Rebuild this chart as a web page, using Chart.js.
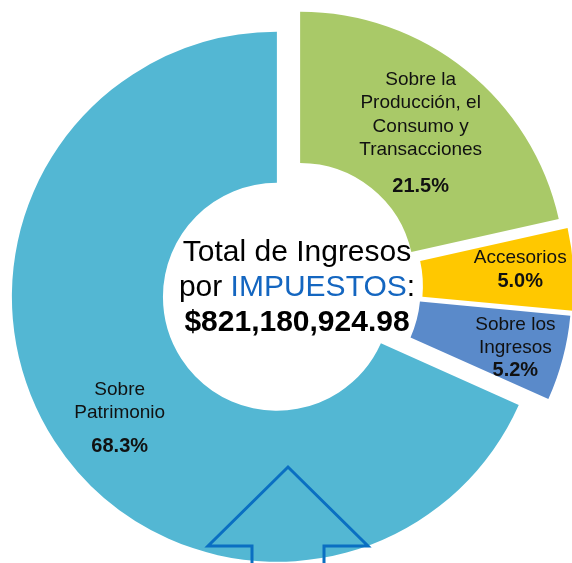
<!DOCTYPE html>
<html>
<head>
<meta charset="utf-8">
<script src="https://cdn.jsdelivr.net/npm/chart.js@4"></script>
<style>
html,body{margin:0;padding:0;background:#fff;overflow:hidden;width:572px;height:563px;}
#wrap{position:absolute;left:0;top:0;width:584px;height:574px;}
</style>
</head>
<body>
<div id="wrap"><canvas id="c" width="584" height="574"></canvas></div>
<script>
const categories = [
  ["Sobre la", "Producción, el", "Consumo y", "Transacciones"],
  ["Accesorios"],
  ["Sobre los", "Ingresos"],
  ["Sobre", "Patrimonio"]
];
const values = [21.5, 5.0, 5.2, 68.3];
const percentLabels = ["21.5%", "5.0%", "5.2%", "68.3%"];
const colors = ["#A9C968", "#FFC800", "#5A8ACA", "#53B7D3"];
const sliceOffsets = [13, 17, 15, 18];
const centerLines = ["Total de Ingresos", "por ", "IMPUESTOS", ":", "$821,180,924.98"];

const OUTER = 265;
const CUT = 0.43;

// label placement per slice (fraction of outer radius, angle shift deg, gap before %)
const labelLayout = [
  {r: 0.712, da: 1.0, gap: 37},
  {r: 0.80, da: -1.3, gap: 24},
  {r: 0.815, da: 0, gap: 23},
  {r: 0.745, da: -4.3, gap: 34}
];

// Chart.js v4 draws offset/4, grows radii by offset*fix and trims angles; compensate
const explodePlugin = {
  id: 'explodeFix',
  beforeDatasetsDraw(chart) {
    const meta = chart.getDatasetMeta(0);
    meta.data.forEach((arc, i) => {
      if (arc._fixed) return;
      const circ = arc.circumference;
      const fix = 1 - Math.sin(Math.min(Math.PI, circ || 0));
      const ro = sliceOffsets[i] * fix;
      arc.outerRadius = OUTER - ro;
      arc.innerRadius = OUTER * CUT - ro;
      const ao = ro / (2 * Math.PI * OUTER);
      arc.startAngle -= ao;
      arc.endAngle += ao;
      arc._fixed = true;
    });
  }
};

const labelPlugin = {
  id: 'sliceLabels',
  afterDatasetsDraw(chart) {
    const ctx = chart.ctx;
    const meta = chart.getDatasetMeta(0);
    ctx.save();
    ctx.textAlign = 'center';
    ctx.textBaseline = 'alphabetic';
    ctx.fillStyle = '#111';
    meta.data.forEach((arc, i) => {
      const p = arc.getProps(['x','y','startAngle','endAngle'], true);
      const mid = (p.startAngle + p.endAngle) / 2;
      const off = sliceOffsets[i];
      const ox = p.x + Math.cos(mid) * off;
      const oy = p.y + Math.sin(mid) * off;
      const L = labelLayout[i];
      const a = mid + L.da * Math.PI / 180;
      const ax = ox + Math.cos(a) * OUTER * L.r;
      const ay = oy + Math.sin(a) * OUTER * L.r;
      const names = categories[i];
      const spacing = 23.5;
      const lastBase = (names.length - 1) * spacing + L.gap;
      const capTop = -14;
      const midOff = (capTop + lastBase) / 2;
      const firstBase = ay - midOff;
      ctx.font = '19px "Liberation Sans", Arial, sans-serif';
      names.forEach((t, k) => ctx.fillText(t, ax, firstBase + k * spacing));
      ctx.font = 'bold 20px "Liberation Sans", Arial, sans-serif';
      ctx.fillText(percentLabels[i], ax, firstBase + lastBase);
    });

    // center text
    const arc0 = meta.data[0];
    const cx = arc0.x + 5, cy = arc0.y;
    ctx.fillStyle = '#000';
    ctx.font = '30px "Liberation Sans", Arial, sans-serif';
    ctx.fillText(centerLines[0], cx, cy - 26);
    const w1 = ctx.measureText(centerLines[1]).width;
    const w2 = ctx.measureText(centerLines[2]).width;
    const w3 = ctx.measureText(centerLines[3]).width;
    let x0 = cx - (w1 + w2 + w3) / 2;
    ctx.textAlign = 'left';
    ctx.fillText(centerLines[1], x0, cy + 9);
    ctx.fillStyle = '#1466C0';
    ctx.fillText(centerLines[2], x0 + w1, cy + 9);
    ctx.fillStyle = '#000';
    ctx.fillText(centerLines[3], x0 + w1 + w2, cy + 9);
    ctx.textAlign = 'center';
    ctx.font = 'bold 30px "Liberation Sans", Arial, sans-serif';
    ctx.fillText(centerLines[4], cx, cy + 44);

    // decorative arrow outline
    const axc = arc0.x - 4;
    ctx.strokeStyle = '#0A6FC2';
    ctx.lineWidth = 3;
    ctx.lineJoin = 'miter';
    ctx.beginPath();
    ctx.moveTo(axc - 36, cy + 300);
    ctx.lineTo(axc - 36, cy + 259);
    ctx.lineTo(axc - 80, cy + 259);
    ctx.lineTo(axc, cy + 180);
    ctx.lineTo(axc + 80, cy + 259);
    ctx.lineTo(axc + 36, cy + 259);
    ctx.lineTo(axc + 36, cy + 300);
    ctx.stroke();
    ctx.restore();
  }
};

new Chart(document.getElementById('c'), {
  type: 'doughnut',
  data: {
    labels: categories.map(c => c.join(' ')),
    datasets: [{
      data: values,
      backgroundColor: colors,
      borderWidth: 0,
      offset: sliceOffsets.map(o => o * 4)
    }]
  },
  options: {
    responsive: false,
    animation: false,
    radius: OUTER,
    cutout: (CUT * 100) + '%',
    layout: {padding: 0},
    plugins: {legend: {display: false}, tooltip: {enabled: false}}
  },
  plugins: [explodePlugin, labelPlugin]
});
</script>
</body>
</html>
